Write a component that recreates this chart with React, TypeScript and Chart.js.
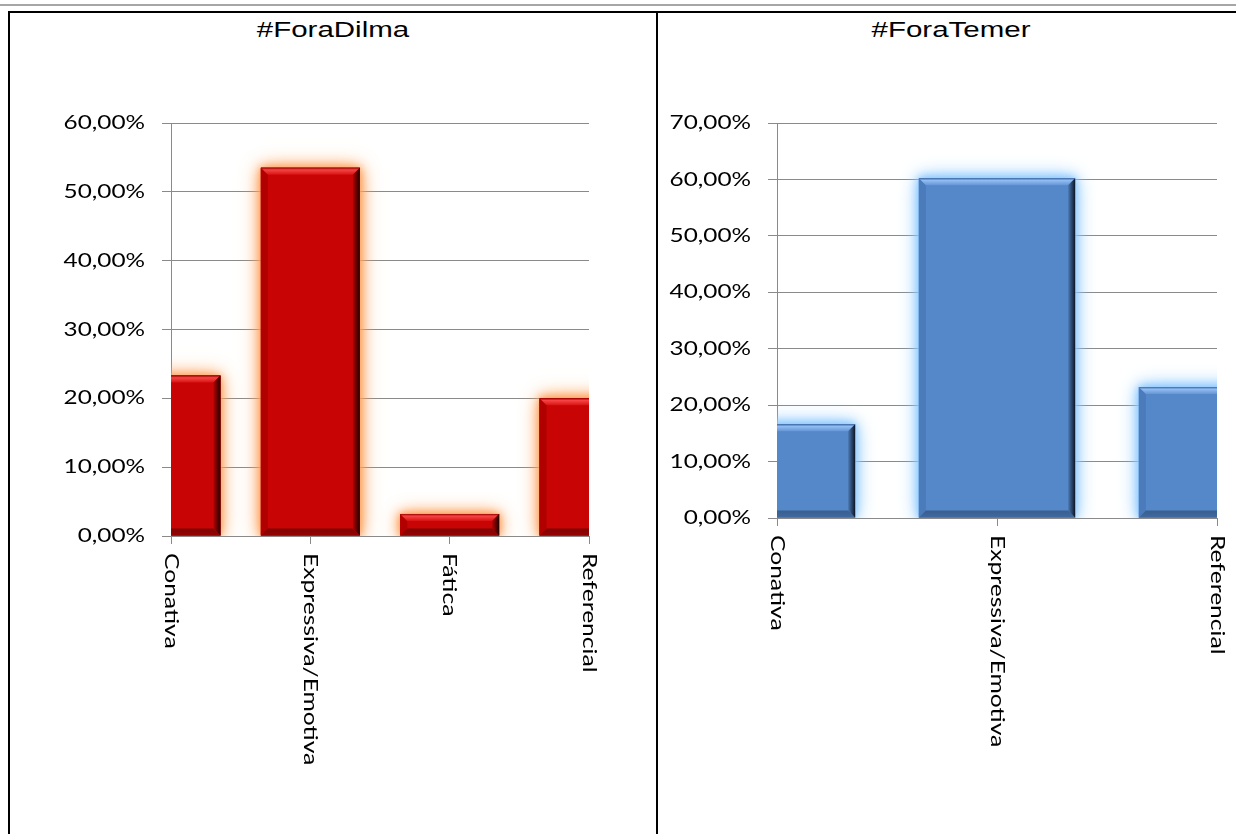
import React, { useEffect, useRef } from 'react';
import { Chart, registerables } from 'chart.js';

Chart.register(...registerables);

// ---- data ----
const dilmaTitle = '#ForaDilma';
const dilmaCategories = ['Conativa', 'Expressiva/Emotiva', 'Fática', 'Referencial'];
const dilmaValues = [23.3, 53.5, 3.2, 20.0];
const dilmaAxisMax = 60;

const temerTitle = '#ForaTemer';
const temerCategories = ['Conativa', 'Expressiva/Emotiva', 'Referencial'];
const temerValues = [16.6, 60.2, 23.2];
const temerAxisMax = 70;

const axisStep = 10;

// ---- styles ----
const GRID = '#8a8a8a';
const LABEL_FONT = 'Lato, "Open Sans", sans-serif';

const redPalette = {
  base: '#C80404',
  topDark: '#9a0000',
  topLight: '#F64444',
  topMid: '#D81212',
  rightDark: '#220000',
  bottom: '#7e0606',
  left: '#b00000',
  glow: 'rgba(255,160,90,1)',
};
const bluePalette = {
  base: '#5588C8',
  topDark: '#3f6aa3',
  topLight: '#92BDF2',
  topMid: '#6495D6',
  rightDark: '#0c1626',
  bottom: '#3a5d8c',
  left: '#4b7bbb',
  glow: 'rgba(140,200,255,1)',
};

function barRect(el: any) {
  const p = el.getProps(['x', 'y', 'base', 'width'], true);
  return {
    l: p.x - p.width / 2,
    r: p.x + p.width / 2,
    t: Math.min(p.y, p.base),
    b: Math.max(p.y, p.base),
  };
}

const glowPlugin = {
  id: 'glow',
  beforeDatasetsDraw(chart: any, _args: any, opts: any) {
    const { ctx, chartArea } = chart;
    ctx.save();
    ctx.beginPath();
    ctx.rect(chartArea.left, chartArea.top, chartArea.right - chartArea.left, chartArea.bottom - chartArea.top);
    ctx.clip();
    ctx.shadowColor = opts.palette.glow;
    ctx.shadowOffsetX = 0;
    ctx.shadowOffsetY = 0;
    ctx.fillStyle = opts.palette.base;
    [20, 12, 7].forEach((blur) => {
      ctx.shadowBlur = blur;
      chart.getDatasetMeta(0).data.forEach((el: any) => {
        const r = barRect(el);
        ctx.fillRect(r.l, r.t, r.r - r.l, r.b - r.t);
      });
    });
    ctx.restore();
  },
};

const bevelPlugin = {
  id: 'bevel',
  afterDatasetsDraw(chart: any, _args: any, opts: any) {
    const { ctx, chartArea } = chart;
    const pal = opts.palette;
    ctx.save();
    ctx.beginPath();
    ctx.rect(chartArea.left, chartArea.top, chartArea.right - chartArea.left, chartArea.bottom - chartArea.top);
    ctx.clip();
    chart.getDatasetMeta(0).data.forEach((el: any) => {
      const { l, r, t, b } = barRect(el);
      const h = b - t;
      const bv = Math.min(7, h / 3);
      // left
      ctx.fillStyle = pal.left;
      ctx.beginPath();
      ctx.moveTo(l, t); ctx.lineTo(l + bv, t + bv); ctx.lineTo(l + bv, b - bv); ctx.lineTo(l, b);
      ctx.closePath(); ctx.fill();
      // bottom
      let g = ctx.createLinearGradient(0, b - bv, 0, b);
      g.addColorStop(0, pal.bottom);
      g.addColorStop(1, pal.topDark);
      ctx.fillStyle = g;
      ctx.beginPath();
      ctx.moveTo(l, b); ctx.lineTo(r, b); ctx.lineTo(r - bv, b - bv); ctx.lineTo(l + bv, b - bv);
      ctx.closePath(); ctx.fill();
      // top
      g = ctx.createLinearGradient(0, t, 0, t + bv);
      g.addColorStop(0, pal.topDark);
      g.addColorStop(0.3, pal.topLight);
      g.addColorStop(1, pal.topMid);
      ctx.fillStyle = g;
      ctx.beginPath();
      ctx.moveTo(l, t); ctx.lineTo(r, t); ctx.lineTo(r - bv, t + bv); ctx.lineTo(l + bv, t + bv);
      ctx.closePath(); ctx.fill();
      // right
      g = ctx.createLinearGradient(r - bv - 1, 0, r, 0);
      g.addColorStop(0, pal.base);
      g.addColorStop(1, pal.rightDark);
      ctx.fillStyle = g;
      ctx.beginPath();
      ctx.moveTo(r, t); ctx.lineTo(r, b); ctx.lineTo(r - bv, b - bv); ctx.lineTo(r - bv, t + bv);
      ctx.closePath(); ctx.fill();
    });
    ctx.restore();
  },
};

const axisTextPlugin = {
  id: 'axisText',
  afterDraw(chart: any, _args: any, opts: any) {
    const { ctx, chartArea } = chart;
    const ys = chart.scales.y;
    const xs = chart.scales.x;
    ctx.save();
    ctx.fillStyle = '#000';
    // y tick labels
    ctx.font = `${opts.yFontSize}px ${LABEL_FONT}`;
    ctx.textAlign = 'right';
    ctx.textBaseline = 'middle';
    ys.ticks.forEach((tk: any, i: number) => {
      const py = ys.getPixelForTick(i);
      const txt = Number(tk.value).toFixed(2).replace('.', ',') + '%';
      ctx.save();
      ctx.translate(chartArea.left - opts.yGap, py);
      ctx.scale(opts.yStretch, 1);
      ctx.fillText(txt, 0, 0);
      ctx.restore();
    });
    // x tick labels rotated clockwise
    ctx.font = `${opts.xFontSize}px ${LABEL_FONT}`;
    ctx.textAlign = 'left';
    ctx.textBaseline = 'middle';
    xs.ticks.forEach((_tk: any, i: number) => {
      const px = xs.getPixelForTick(i);
      const label = chart.data.labels[i];
      ctx.save();
      ctx.translate(px, chartArea.bottom + opts.xGap);
      ctx.rotate(Math.PI / 2);
      ctx.scale(opts.xStretch, 1);
      ctx.fillText(label, 0, 0);
      ctx.restore();
    });
    ctx.restore();
  },
};

function buildConfig(
  labels: string[],
  values: number[],
  axisMax: number,
  palette: any,
  yWidth: number,
  xHeight: number,
  padding: any
): any {
  return {
    type: 'bar',
    data: {
      labels,
      datasets: [
        {
          data: values,
          backgroundColor: palette.base,
          borderWidth: 0,
          barPercentage: 0.71,
          categoryPercentage: 1,
          clip: 0,
        },
      ],
    },
    options: {
      animation: false,
      responsive: false,
      events: [],
      layout: { padding },
      plugins: {
        legend: { display: false },
        tooltip: { enabled: false },
        title: { display: false },
        glow: { palette },
        bevel: { palette },
        axisText: { yFontSize: 19, xFontSize: 20, yStretch: 1.28, xStretch: 1.23, yGap: 26, xGap: 17 },
      },
      scales: {
        x: {
          type: 'category',
          offset: false,
          grid: { offset: false, drawOnChartArea: false, drawTicks: true, tickLength: 8, color: GRID },
          border: { display: true, color: GRID },
          ticks: { display: false },
          afterFit(s: any) {
            s.height = xHeight;
          },
        },
        y: {
          type: 'linear',
          min: 0,
          max: axisMax,
          ticks: { stepSize: axisStep, display: false },
          grid: { color: GRID, drawTicks: true, tickLength: 9 },
          border: { display: true, color: GRID },
          afterFit(s: any) {
            s.width = yWidth;
          },
        },
      },
    },
    plugins: [glowPlugin, bevelPlugin, axisTextPlugin],
  };
}

const titleStyle = (left: number, width: number): React.CSSProperties => ({
  position: 'absolute',
  left,
  top: 19,
  width,
  textAlign: 'center',
  fontFamily: '"Liberation Sans", Arial, sans-serif',
  fontSize: 22,
  lineHeight: '22px',
  color: '#000',
  transform: 'scaleX(1.34)',
  transformOrigin: 'center',
  whiteSpace: 'nowrap',
});

export default function App() {
  const leftRef = useRef<HTMLCanvasElement>(null);
  const rightRef = useRef<HTMLCanvasElement>(null);

  useEffect(() => {
    const c1 = new Chart(
      leftRef.current as HTMLCanvasElement,
      buildConfig(dilmaCategories, dilmaValues, dilmaAxisMax, redPalette, 160, 298, {
        left: 0,
        right: 67,
        top: 109,
        bottom: 0,
      })
    );
    const c2 = new Chart(
      rightRef.current as HTMLCanvasElement,
      buildConfig(temerCategories, temerValues, temerAxisMax, bluePalette, 118, 316, {
        left: 0,
        right: 19,
        top: 109,
        bottom: 0,
      })
    );
    return () => {
      c1.destroy();
      c2.destroy();
    };
  }, []);

  return (
    <div
      style={{
        position: 'fixed',
        left: 0,
        top: 0,
        width: 1236,
        height: 834,
        background: '#fff',
        overflow: 'hidden',
      }}
    >
      <div style={{ position: 'absolute', left: 0, top: 4, width: 1236, height: 2, background: '#a6a6a6' }} />
      <div style={{ position: 'absolute', left: 8, top: 11, width: 1240, height: 2, background: '#000' }} />
      <div style={{ position: 'absolute', left: 8, top: 11, width: 2, height: 830, background: '#000' }} />
      <div style={{ position: 'absolute', left: 656, top: 11, width: 2, height: 830, background: '#000' }} />
      <div style={titleStyle(10, 646)}>{dilmaTitle}</div>
      <div style={titleStyle(658, 586)}>{temerTitle}</div>
      <canvas
        ref={leftRef}
        width={645}
        height={820}
        style={{ position: 'absolute', left: 11, top: 14, width: 645, height: 820 }}
      />
      <canvas
        ref={rightRef}
        width={577}
        height={820}
        style={{ position: 'absolute', left: 659, top: 14, width: 577, height: 820 }}
      />
    </div>
  );
}
